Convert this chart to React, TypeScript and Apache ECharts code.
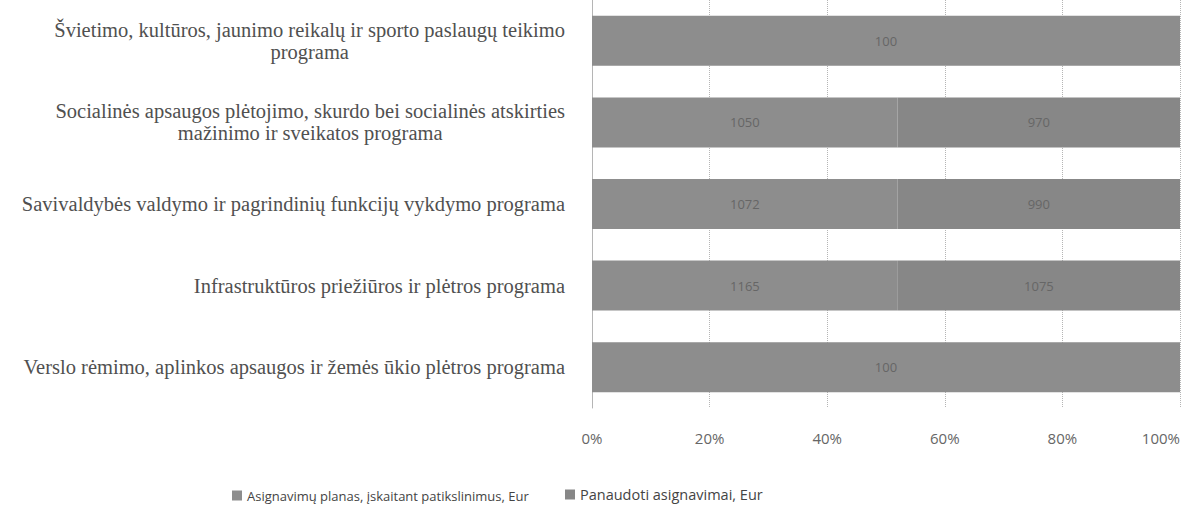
import React, { useEffect, useRef } from "react";
import * as echarts from "echarts";

// Categories listed bottom-to-top (ECharts category axis starts at the bottom)
const categories = [
  "Verslo rėmimo, aplinkos apsaugos ir žemės ūkio plėtros programa",
  "Infrastruktūros priežiūros ir plėtros programa",
  "Savivaldybės valdymo ir pagrindinių funkcijų vykdymo programa",
  "Socialinės apsaugos plėtojimo, skurdo bei socialinės atskirties\nmažinimo ir sveikatos programa",
  "Švietimo, kultūros, jaunimo reikalų ir sporto paslaugų teikimo\nprograma",
];
const seriesNames = [
  "Asignavimų planas, įskaitant patikslinimus, Eur",
  "Panaudoti asignavimai, Eur",
];
const planValues = [100, 1165, 1072, 1050, 100];
const usedValues = [0, 1075, 990, 970, 0];
const xMin = 0;
const xMax = 100;
const xInterval = 20;

const serif = "'Liberation Serif', 'DejaVu Serif', serif";
const sans = "'Open Sans', 'Liberation Sans', sans-serif";

export default function App() {
  const ref = useRef<HTMLDivElement>(null);
  useEffect(() => {
    if (!ref.current) return;
    const chart = echarts.init(ref.current, undefined, { renderer: "svg" });
    const totals = planValues.map((v, i) => v + usedValues[i]);
    const toPct = (arr: number[]) =>
      arr.map((v, i) => ({ value: (v / totals[i]) * 100, raw: v }));
    const labelCfg = {
      show: true,
      position: "inside",
      color: "#666",
      fontSize: 13,
      fontFamily: sans,
      formatter: (p: any) => (p.data.raw ? String(p.data.raw) : ""),
    };
    const legendBase = {
      bottom: 8,
      padding: 0,
      itemWidth: 10,
      itemHeight: 10,
      icon: "rect",
    };
    chart.setOption({
      animation: false,
      backgroundColor: "#ffffff",
      grid: { left: 592, right: 9, top: 0, height: 408, containLabel: false },
      legend: [
        {
          ...legendBase,
          left: 232,
          data: [seriesNames[0]],
          textStyle: { color: "#444", fontSize: 13, fontFamily: sans },
        },
        {
          ...legendBase,
          left: 565,
          data: [seriesNames[1]],
          textStyle: { color: "#444", fontSize: 14.5, fontFamily: sans },
        },
      ],
      xAxis: {
        type: "value",
        min: xMin,
        max: xMax,
        interval: xInterval,
        axisLine: { show: false },
        axisTick: { show: false },
        splitLine: {
          show: true,
          lineStyle: { color: "#b5b5b5", type: "dotted", width: 1 },
        },
        axisLabel: {
          formatter: "{value}%",
          color: "#666",
          fontSize: 15,
          fontFamily: sans,
          margin: 22,
          alignMaxLabel: "right",
        },
      },
      yAxis: {
        type: "category",
        data: categories,
        axisLine: {
          show: true,
          lineStyle: { color: "#b5b5b5", type: "dotted" },
        },
        axisTick: { show: false },
        axisLabel: {
          margin: 27,
          align: "right",
          lineHeight: 22,
          formatter: (v: string) => {
            const parts = v.split("\n");
            if (parts.length === 1) return "{a|" + parts[0] + "}";
            return "{a|" + parts[0] + "}\n{b|" + parts[1] + "}";
          },
          rich: {
            a: { color: "#505050", fontSize: 20.5, fontFamily: serif, lineHeight: 22 },
            b: {
              color: "#505050",
              fontSize: 20.5,
              fontFamily: serif,
              lineHeight: 22,
              align: "center",
            },
          },
        },
      },
      series: [
        {
          name: seriesNames[0],
          type: "bar",
          stack: "total",
          barWidth: 50,
          itemStyle: { color: "#8d8d8d" },
          label: labelCfg,
          data: toPct(planValues),
        },
        {
          name: seriesNames[1],
          type: "bar",
          stack: "total",
          barWidth: 50,
          itemStyle: { color: "#878787" },
          label: labelCfg,
          data: toPct(usedValues),
        },
      ],
    });
    return () => chart.dispose();
  }, []);
  return (
    <div
      ref={ref}
      style={{ position: "fixed", left: 0, top: 0, width: 1189, height: 510, background: "#fff" }}
    />
  );
}
